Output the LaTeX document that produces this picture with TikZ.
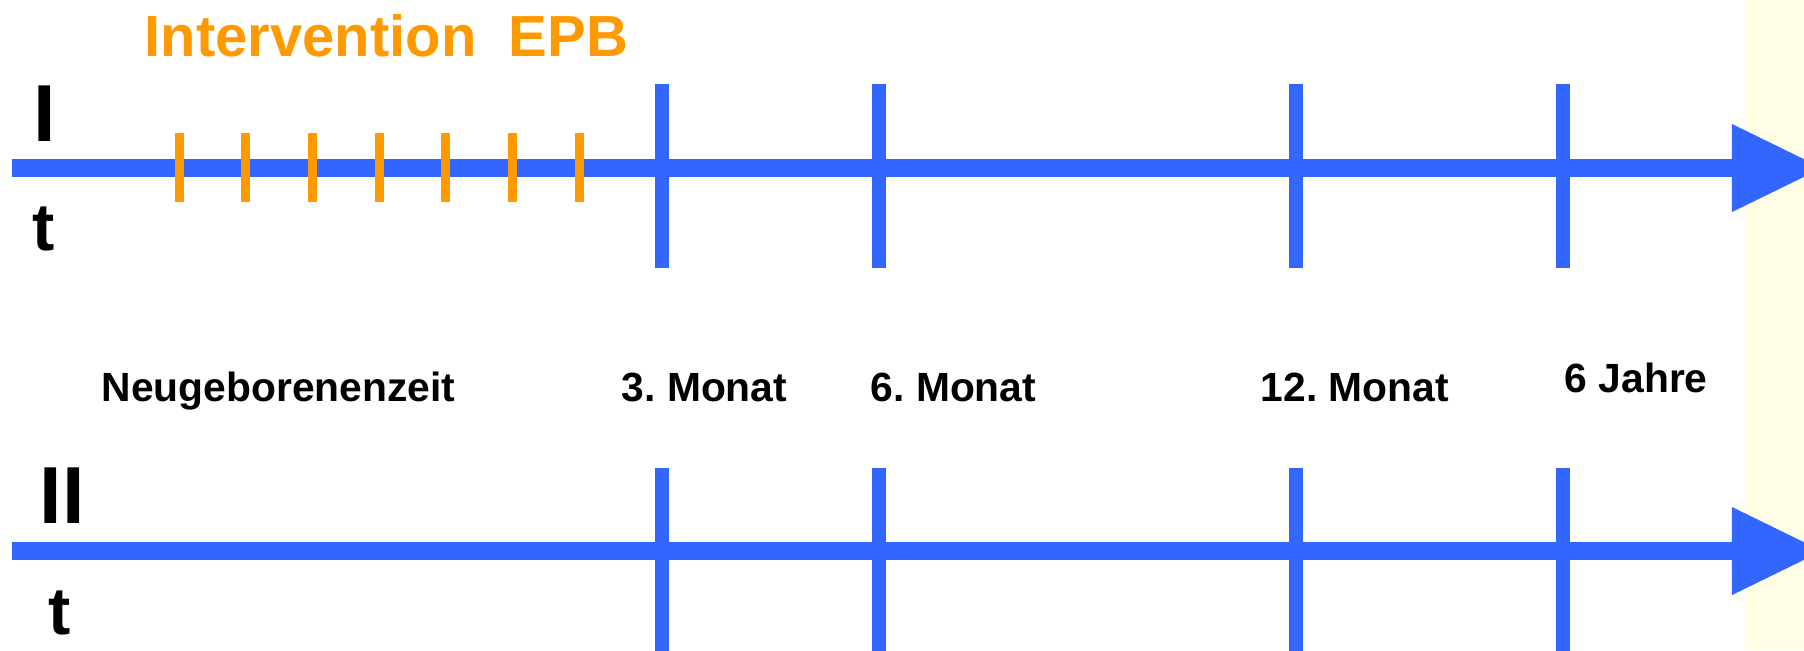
\documentclass[tikz,border=0pt]{standalone}
\usepackage{fontspec}
\setmainfont{Liberation Sans}
\usetikzlibrary{arrows.meta}
\definecolor{axisblue}{HTML}{3366FF}
\definecolor{epborange}{HTML}{FF9900}
\definecolor{paleyellow}{HTML}{FFFDE3}
\frenchspacing
\tikzset{
  axis/.style={line width=0.175cm, draw=axisblue,
    -{Triangle[length=9mm, width=8.8mm, line width=0pt]}},
  bluetick/.style={line width=0.14cm, draw=axisblue},
  epbtick/.style={line width=0.09cm, draw=epborange},
  rowlabel/.style={font=\bfseries\fontsize{23}{26}\selectfont, anchor=base, inner sep=0pt},
  tlabel/.style={font=\bfseries\fontsize{19}{22}\selectfont, anchor=base, inner sep=0pt},
  timelabel/.style={font=\bfseries\fontsize{11.6}{14}\selectfont, anchor=base west, inner sep=0pt}
}
\begin{document}
\begin{tikzpicture}[x=0.01cm, y=-0.01cm]
  \useasboundingbox (0,0) rectangle (1804,650);
  \clip (0,0) rectangle (1804,650);
  \fill[paleyellow] (1745,0) rectangle (1804,650);
  % Zeitachsen
  \coordinate (startI) at (12,168);
  \coordinate (endI) at (1822,168);
  \coordinate (startII) at (12,551);
  \coordinate (endII) at (1822,551);
  \draw[axis] (startI) -- (endI);
  \draw[axis] (startII) -- (endII);
  \foreach \x in {662,879,1296,1563} {
    \draw[bluetick] (\x,84) -- (\x,268);
    \draw[bluetick] (\x,468) -- (\x,652);
  }
  \foreach \i in {0,...,6}
    \draw[epbtick] ({179+66.7*\i},133) -- ({179+66.7*\i},202);
  % Beschriftung
  \node[font=\bfseries\fontsize{16.5}{19}\selectfont, text=epborange, anchor=base west, inner sep=0pt]
    (epb) at (144,56) {Intervention\ \ EPB};
  \node[rowlabel] (rowI) at (45,141) {I};
  \node[tlabel] (tI) at (44,250) {t};
  \node[rowlabel] (rowII) at (62,523) {II};
  \node[tlabel] (tII) at (60,634) {t};
  \node[timelabel] (neo) at (101,401) {Neugeborenenzeit};
  \node[timelabel] (m3) at (621,401) {3. Monat};
  \node[timelabel] (m6) at (870,401) {6. Monat};
  \node[timelabel] (m12) at (1260,401) {12. Monat};
  \node[timelabel] (y6) at (1564,392) {6 Jahre};
\end{tikzpicture}
\end{document}
